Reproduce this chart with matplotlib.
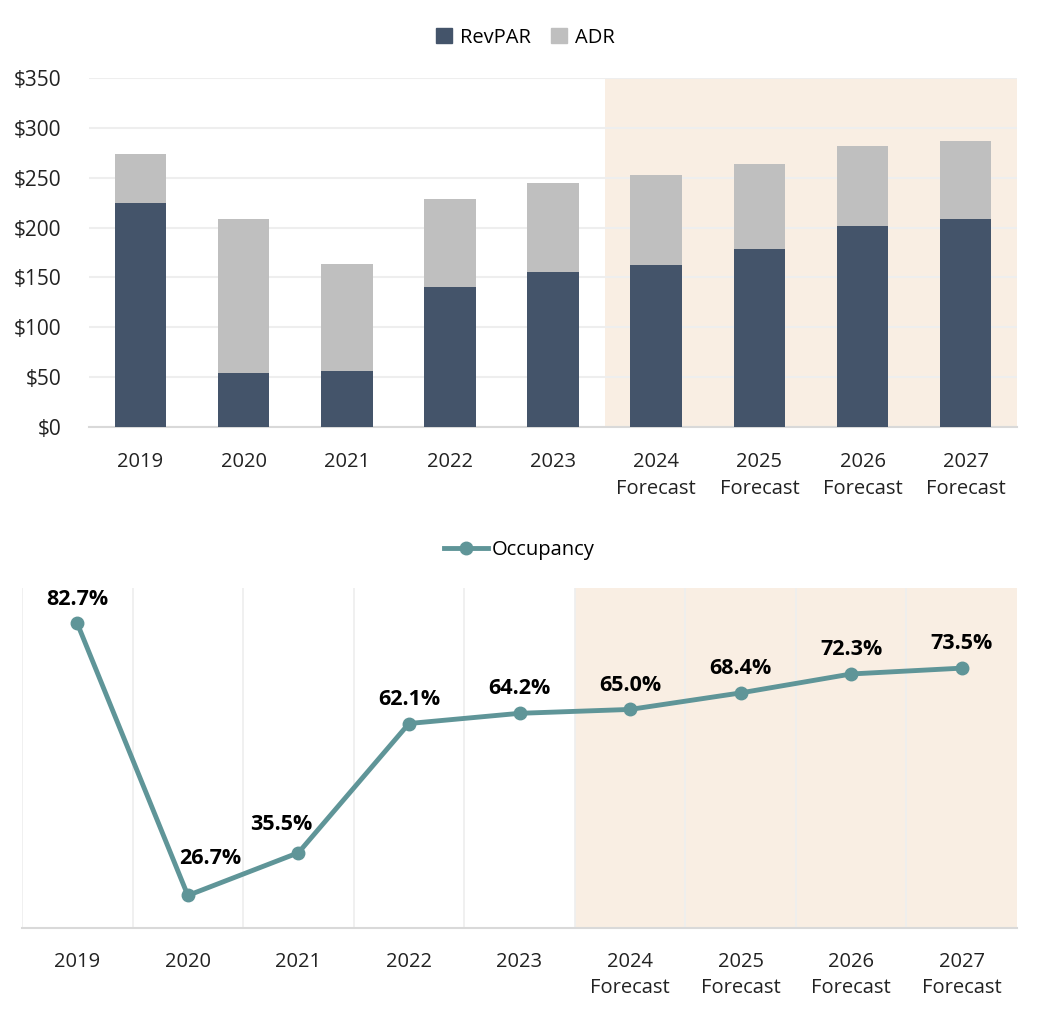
import numpy as np
import matplotlib.pyplot as plt
from matplotlib.patches import Patch
from matplotlib.lines import Line2D

plt.rcParams['font.family'] = ['Open Sans', 'DejaVu Sans']

years = ['2019', '2020', '2021', '2022', '2023',
         '2024\nForecast', '2025\nForecast', '2026\nForecast', '2027\nForecast']
adr = [274, 208.5, 163.5, 228.5, 244.5, 252.5, 263.5, 281.5, 286.5]
revpar = [225, 54, 56, 140.5, 155.5, 162.5, 178.5, 201.5, 208.5]
occupancy = [82.7, 26.7, 35.5, 62.1, 64.2, 65.0, 68.4, 72.3, 73.5]
first_forecast = 5

c_revpar = '#44546A'
c_adr = '#BFBFBF'
c_shade = '#F9EEE3'
c_line = '#5F9598'
c_grid = '#EEEEEE'
c_axis = '#D9D9D9'

fig = plt.figure(figsize=(10.38, 10.15), dpi=100)
x = np.arange(len(years))

# top: ADR / RevPAR bars
ax1 = fig.add_axes([0.0857, 0.5793, 0.8943, 0.3439])
ax1.axvspan(first_forecast - 0.5, len(years) - 0.5, ymin=0, ymax=1, color=c_shade, lw=0, zorder=0)
ax1.bar(x, adr, width=0.5, color=c_adr, zorder=2)
ax1.bar(x, revpar, width=0.5, color=c_revpar, zorder=3)
ax1.set_xlim(-0.5, len(years) - 0.5)
ax1.set_ylim(0, 350)
ax1.set_yticks(np.arange(0, 351, 50))
ax1.set_yticklabels(['${}'.format(v) for v in range(0, 351, 50)], fontsize=15)
ax1.set_xticks(x)
ax1.set_xticklabels(years, linespacing=1.45)
ax1.yaxis.grid(True, color=c_grid, lw=1.5, zorder=1)
ax1.set_axisbelow(True)
for s in ['top', 'right', 'left']:
    ax1.spines[s].set_visible(False)
ax1.spines['bottom'].set_color(c_axis)
ax1.spines['bottom'].set_linewidth(1.5)
ax1.tick_params(axis='both', length=0, colors='#222222')
ax1.tick_params(axis='x', pad=18, labelsize=14.5)
ax1.tick_params(axis='y', pad=20)
ax1.legend(handles=[Patch(color=c_revpar, label='RevPAR'), Patch(color=c_adr, label='ADR')],
           loc='lower center', bbox_to_anchor=(0.47, 1.035), ncol=2, frameon=False,
           fontsize=14.5, handlelength=0.8, handleheight=0.8, handletextpad=0.4, columnspacing=1.0)

# bottom: occupancy line
ax2 = fig.add_axes([0.0212, 0.0857, 0.9586, 0.335])
ax2.axvspan(first_forecast - 0.5, len(years) - 0.5, color=c_shade, lw=0, zorder=0)
for b in np.arange(-0.5, len(years) - 0.5, 1.0):
    ax2.axvline(b, color=c_grid, lw=1.2, zorder=1)
ax2.plot(x, occupancy, color=c_line, lw=3.5, marker='o', markersize=9, zorder=3)
for i, v in enumerate(occupancy):
    dx, dy = 0, 10
    if i == 1:
        dx, dy = 16, 19
    elif i == 2:
        dx, dy = -12, 13
    ax2.annotate('{:.1f}%'.format(v), (i, v), xytext=(dx, dy), textcoords='offset points',
                 ha='center', va='bottom', fontsize=15.5, fontweight='bold', color='black', zorder=4)
ax2.set_xlim(-0.5, len(years) - 0.5)
ax2.set_ylim(20, 90)
ax2.set_yticks([])
ax2.set_xticks(x)
ax2.set_xticklabels(years, linespacing=1.45)
for s in ['top', 'right', 'left']:
    ax2.spines[s].set_visible(False)
ax2.spines['bottom'].set_color(c_axis)
ax2.spines['bottom'].set_linewidth(1.5)
ax2.tick_params(axis='x', length=0, labelsize=14.5, colors='#222222', pad=17)
ax2.legend(handles=[Line2D([0], [0], color=c_line, lw=3.5, marker='o', markersize=9, label='Occupancy')],
           loc='lower center', bbox_to_anchor=(0.5, 1.03), frameon=False, fontsize=14.5,
           handlelength=2.2, handletextpad=0.2)

fig.savefig('out.png', dpi=100)
